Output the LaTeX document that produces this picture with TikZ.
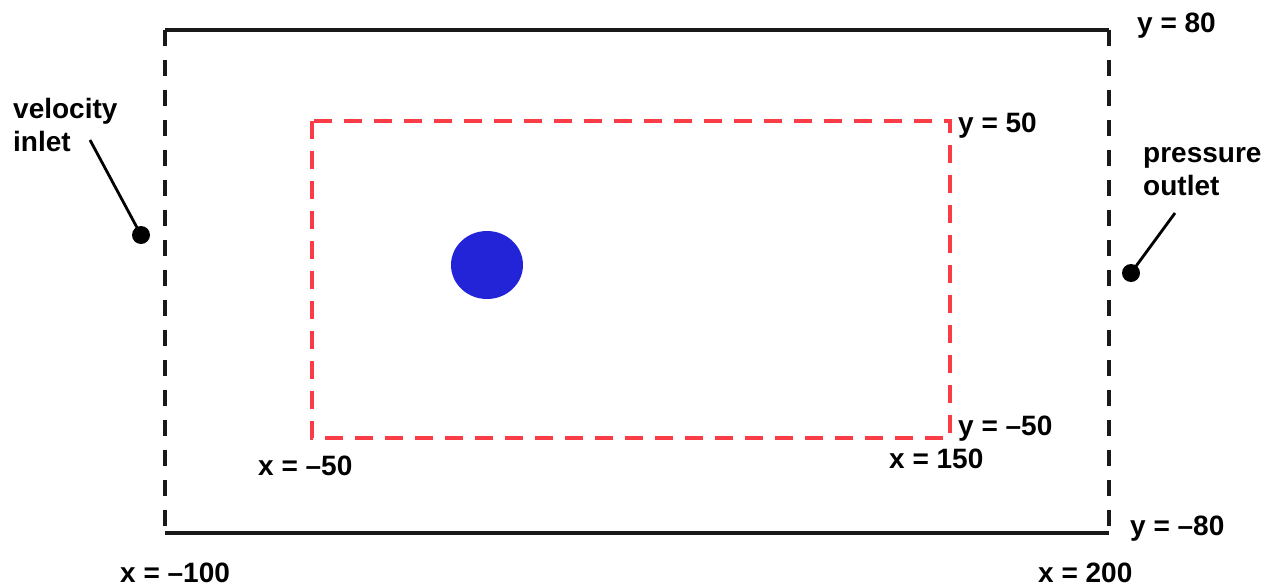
\documentclass[tikz,border=0pt]{standalone}
\usepackage{fontspec}
\setmainfont{Liberation Sans}
\begin{document}
\begin{tikzpicture}[x=1pt,y=-1pt,
  lbl/.style={inner sep=0pt,font=\fontsize{28}{33.5}\selectfont\bfseries,align=left},
  solidedge/.style={line width=3.4pt,black!90},
  dashedge/.style={line width=3.4pt,black!90,dash pattern=on 16pt off 14pt},
  reddash/.style={line width=3.4pt,color={rgb,255:red,250;green,60;blue,70},dash pattern=on 18pt off 12pt},
  pin/.style={circle,fill=black,inner sep=0pt,minimum size=18pt},
  leader/.style={line width=2.8pt,black}]
\useasboundingbox (0,0) rectangle (1279,586);
% outer domain
\coordinate (otl) at (165,30);
\coordinate (otr) at (1109,30);
\coordinate (obl) at (165,533);
\coordinate (obr) at (1109,533);
\draw[solidedge] (otl) -- (otr);
\draw[solidedge] (obl) -- (obr);
\draw[dashedge] (otl) -- (obl);
\draw[dashedge] (otr) -- (obr);
% refinement region
\coordinate (rtl) at (312,121);
\coordinate (rbr) at (950,438);
\draw[reddash] (rtl) rectangle (rbr);
% cylinder
\fill[color={rgb,255:red,35;green,35;blue,215}] (487,265) ellipse [x radius=36, y radius=34];
% labels
\node[lbl,anchor=base west] (y80) at (1137,33) {y = 80};
\node[lbl,anchor=base west] (y50) at (958,132) {y = 50};
\node[lbl,anchor=base west] (ym50) at (958,435) {y = –50};
\node[lbl,anchor=base west] (x150) at (889,468) {x = 150};
\node[lbl,anchor=base west] (xm50) at (258,475) {x = –50};
\node[lbl,anchor=base west] (xm100) at (120,582) {x = –100};
\node[lbl,anchor=base west] (x200) at (1038,582) {x = 200};
\node[lbl,anchor=base west] (ym80) at (1130,535) {y = –80};
% boundary annotations
\node[lbl,anchor=north west] (vin) at (13,98) {velocity\\inlet};
\node[lbl,anchor=north west] (pout) at (1143,147) {pressure\\outlet};
\node[pin] (vdot) at (141,235) {};
\node[pin] (pdot) at (1131,273) {};
\coordinate (vend) at (90,140);
\coordinate (pend) at (1175,213);
\draw[leader] (vend) -- (vdot.center);
\draw[leader] (pend) -- (pdot.center);
\end{tikzpicture}
\end{document}
